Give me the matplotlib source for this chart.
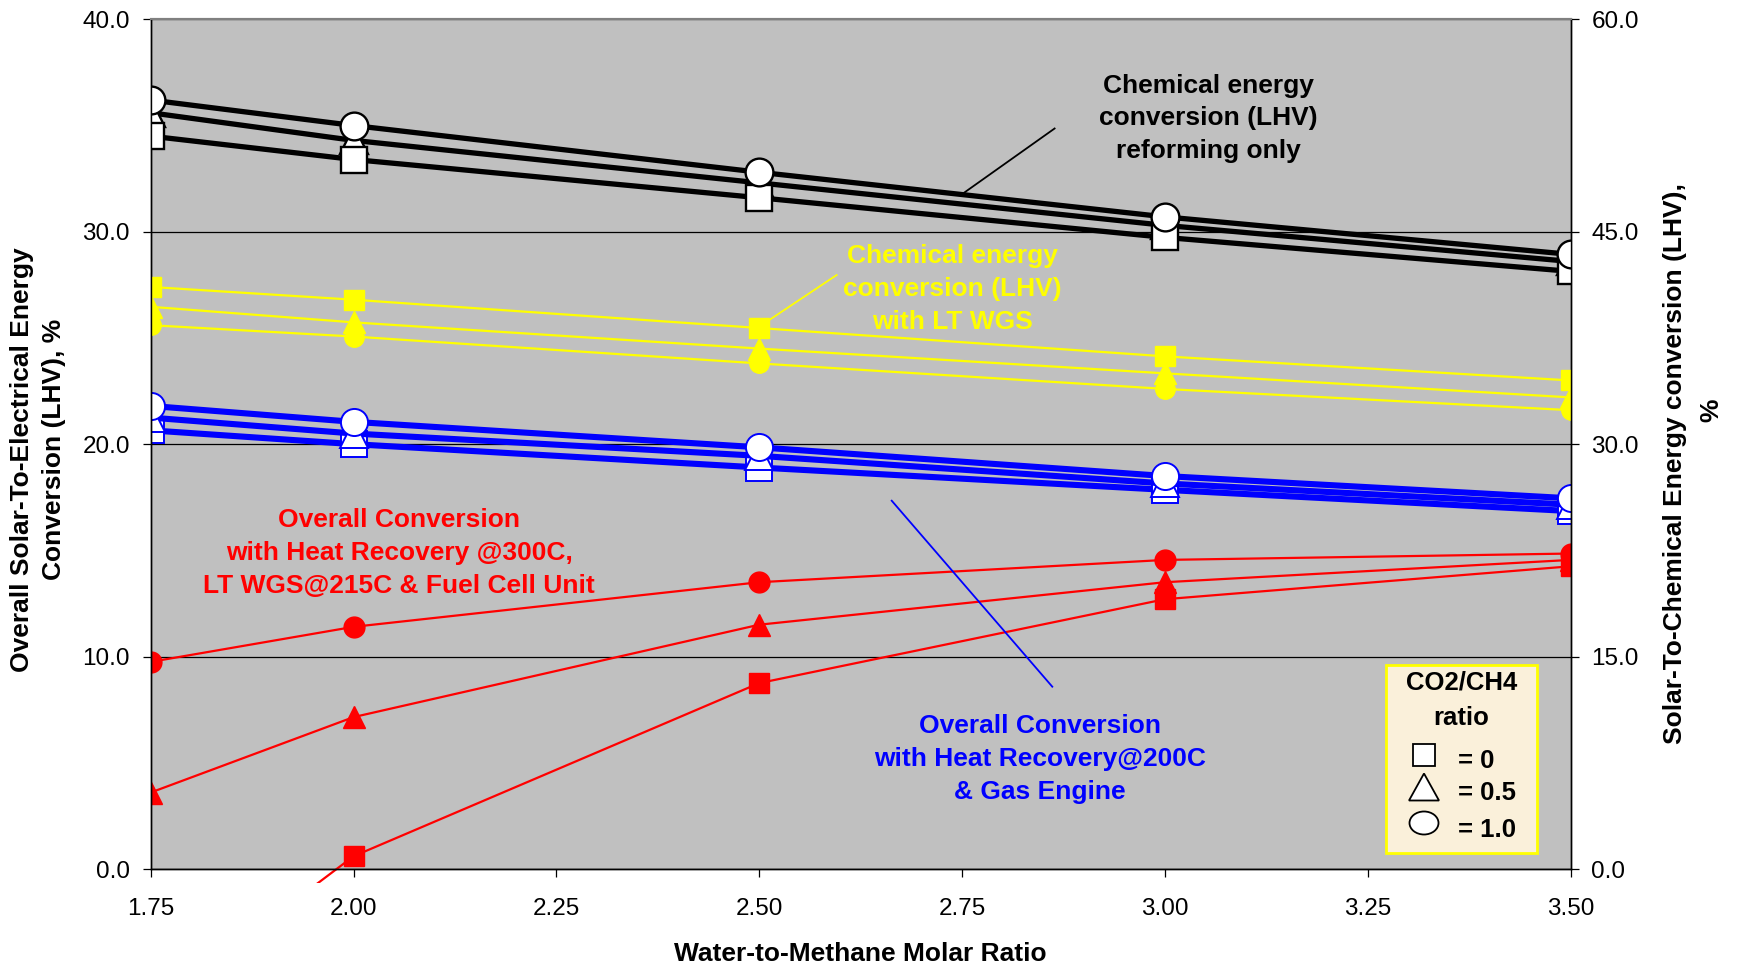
import matplotlib
matplotlib.use("Agg")
import matplotlib.pyplot as plt
from matplotlib.lines import Line2D
from matplotlib.patches import Rectangle, Ellipse, Polygon
from matplotlib.transforms import Bbox, TransformedBbox
from matplotlib.ticker import FormatStrFormatter

plt.rcParams['font.family'] = ['Liberation Sans', 'DejaVu Sans']

W, H = 1737, 969

ratio = [1.75, 2.00, 2.50, 3.00, 3.50]

# chemical energy conversion, reforming only (right axis, %)
chem_ref_0 = [51.75, 50.1, 47.4, 44.6, 42.2]
chem_ref_05 = [53.4, 51.45, 48.45, 45.45, 42.9]
chem_ref_10 = [54.3, 52.5, 49.2, 46.05, 43.4]
# chemical energy conversion with LT WGS (right axis, %)
chem_wgs_0 = [41.1, 40.2, 38.2, 36.2, 34.5]
chem_wgs_05 = [39.7, 38.6, 36.75, 35.0, 33.3]
chem_wgs_10 = [38.4, 37.6, 35.7, 33.9, 32.4]
# overall conversion, heat recovery @200C & gas engine (left axis, %)
ge_0 = [20.65, 20.0, 18.9, 17.85, 16.85]
ge_05 = [21.25, 20.5, 19.45, 18.15, 17.15]
ge_10 = [21.8, 21.05, 19.85, 18.5, 17.45]
# overall conversion, heat recovery @300C, LT WGS & fuel cell (left axis, %)
fc_0 = [-6.6, 0.6, 8.75, 12.7, 14.25]
fc_05 = [3.6, 7.15, 11.5, 13.5, 14.55]
fc_10 = [9.75, 11.4, 13.5, 14.55, 14.85]

BLUE = '#0000FF'
RED = '#FF0000'
YEL = '#FFFF00'


def fx(px):
    return px / W


def fy(py):
    return 1 - py / H


fig = plt.figure(figsize=(W / 100, H / 100), dpi=100)
ax = fig.add_axes([fx(150.7), fy(869), (1570.5 - 150.7) / W, (869 - 19.3) / H])
ax.set_facecolor('#C0C0C0')
ax.set_xlim(1.75, 3.5)
ax.set_ylim(0, 40)
ax.set_xticks([1.75, 2.0, 2.25, 2.5, 2.75, 3.0, 3.25, 3.5])
ax.set_yticks([0, 10, 20, 30, 40])
ax.xaxis.set_major_formatter(FormatStrFormatter('%.2f'))
ax.yaxis.set_major_formatter(FormatStrFormatter('%.1f'))
ax.yaxis.grid(True, color='black', lw=0.9)
ax.set_axisbelow(True)
ax.tick_params(axis='y', direction='out', length=6, width=0.9, labelsize=17.5, pad=9)
ax.tick_params(axis='x', direction='out', length=6, width=0.9, labelsize=17.5, pad=15)

ax2 = ax.twinx()
ax2.set_ylim(0, 60)
ax2.set_yticks([0, 15, 30, 45, 60])
ax2.yaxis.set_major_formatter(FormatStrFormatter('%.1f'))
ax2.tick_params(axis='y', direction='out', length=6, width=0.9, labelsize=17.5, pad=9)
for a in (ax, ax2):
    a.spines['top'].set_color('#808080')
    a.spines['top'].set_linewidth(1.5)
    for s in ('left', 'right', 'bottom'):
        a.spines[s].set_linewidth(1.0)

# gas engine (blue, open markers)
for vals, mk, ms in [(ge_0, 's', 18.5), (ge_05, '^', 19.5), (ge_10, 'o', 19.5)]:
    ax.plot(ratio, vals, color=BLUE, lw=4.4, marker=mk, ms=ms,
            mfc='white', mec=BLUE, mew=1.4)

# fuel cell (red, filled markers)
clip = TransformedBbox(Bbox([[1.75, -0.66], [3.5, 40]]), ax.transData)
for vals, mk, ms in [(fc_0, 's', 14.5), (fc_05, '^', 16), (fc_10, 'o', 15)]:
    ln, = ax.plot(ratio, vals, color=RED, lw=1.6, marker=mk, ms=ms,
                  mfc=RED, mec=RED)
    ln.set_clip_path(None)
    ln.set_clip_box(clip)

# reforming only (black, open markers) on the right axis
for vals, mk, ms in [(chem_ref_05, '^', 19.5), (chem_ref_0, 's', 19), (chem_ref_10, 'o', 20)]:
    ax2.plot(ratio, vals, color='black', lw=3.8, marker=mk, ms=ms,
             mfc='white', mec='black', mew=1.7)

# with LT WGS (yellow, filled markers) on the right axis
for vals, mk, ms in [(chem_wgs_10, 'o', 14), (chem_wgs_05, '^', 15.5), (chem_wgs_0, 's', 14)]:
    ax2.plot(ratio, vals, color=YEL, lw=1.6, marker=mk, ms=ms,
             mfc=YEL, mec=YEL)

# axis titles
lab = dict(weight='bold', size=19, rotation=90, ha='center', va='center')
fig.text(fx(22.5), fy(460), 'Overall Solar-To-Electrical Energy', **lab)
fig.text(fx(54), fy(449), 'Conversion (LHV), %', **lab)
fig.text(fx(1675), fy(464), 'Solar-To-Chemical Energy conversion (LHV),', **lab)
fig.text(fx(1711), fy(410), '%', **lab)
fig.text(fx(860), fy(954), 'Water-to-Methane Molar Ratio', weight='bold',
         size=19, ha='center', va='center')

# annotations
ann = dict(weight='bold', size=19, ha='center', va='center', ma='center',
           linespacing=1.47)
fig.text(fx(1208.6), fy(118.5),
         'Chemical energy\nconversion (LHV)\nreforming only', color='black', **ann)
fig.text(fx(952.7), fy(289),
         'Chemical energy\nconversion (LHV)\nwith LT WGS', color=YEL, **ann)
fig.text(fx(399), fy(553),
         'Overall Conversion\nwith Heat Recovery @300C,\nLT WGS@215C & Fuel Cell Unit',
         color=RED, **ann)
fig.text(fx(1040), fy(759),
         'Overall Conversion\nwith Heat Recovery@200C\n& Gas Engine', color=BLUE, **ann)

for (x0, y0, x1, y1, c) in [(1054.6, 128.5, 963, 193.5, 'black'),
                            (836.7, 275, 766.7, 321.7, YEL),
                            (891.7, 500.7, 1052.3, 686.7, BLUE)]:
    fig.add_artist(Line2D([fx(x0), fx(x1)], [fy(y0), fy(y1)],
                          transform=fig.transFigure, color=c, lw=1.3))

# marker key box
lw_, lh_ = 151, 188
lax = fig.add_axes([fx(1386), fy(665 + lh_), lw_ / W, lh_ / H])
lax.set_xlim(0, lw_)
lax.set_ylim(lh_, 0)
lax.axis('off')
lax.add_patch(Rectangle((0, 0), lw_, lh_, fc='#FAF0DA', ec=YEL, lw=2, clip_on=False))
key = dict(weight='bold', size=18.5, va='center')
lax.text(75.5, 18, 'CO2/CH4', ha='center', **key)
lax.text(75.5, 53, 'ratio', ha='center', **key)
lax.add_patch(Rectangle((27, 79), 22, 22, fc='white', ec='black', lw=1.3))
lax.add_patch(Polygon([(23, 135.5), (53, 135.5), (38, 108.5)], closed=True,
                      fc='white', ec='black', lw=1.3))
lax.add_patch(Ellipse((38, 158), 29, 23, fc='white', ec='black', lw=1.3))
lax.text(72, 96, '= 0', ha='left', **key)
lax.text(72, 128, '= 0.5', ha='left', **key)
lax.text(72, 165, '= 1.0', ha='left', **key)

fig.savefig('out.png', dpi=100)
